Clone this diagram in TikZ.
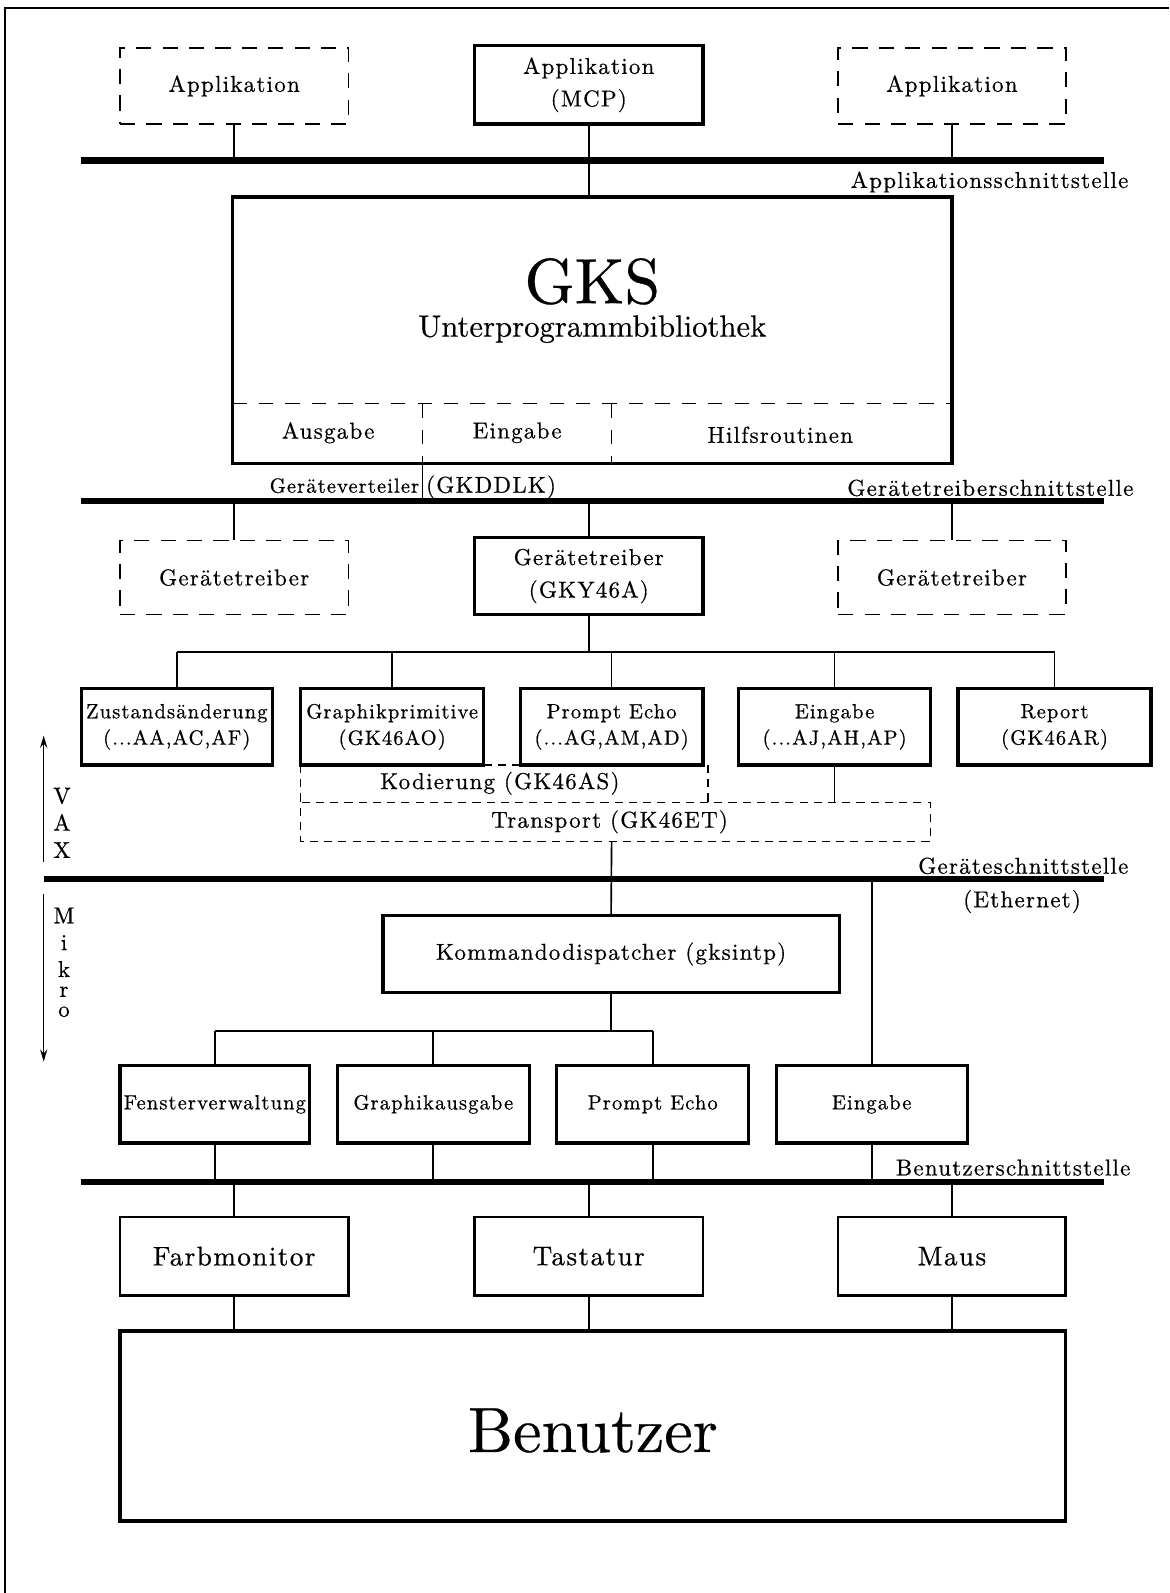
\documentclass[tikz,border=0pt]{standalone}
\usepackage{fontspec}
\setmainfont{lmroman10-regular.otf}[LetterSpace=5.5,FakeBold=0.6]
\newfontfamily\plainlm{lmroman10-regular.otf}[FakeBold=0.4]
\usetikzlibrary{arrows.meta}
\newcommand\FtNorm{\fontsize{11.3pt}{16pt}\selectfont}
\newcommand\FtSmall{\fontsize{10.1pt}{13pt}\selectfont}
\newcommand\FtMid{\fontsize{13.3pt}{16pt}\selectfont}
\newcommand\FtUnter{\plainlm\fontsize{15.1pt}{18pt}\selectfont}
\newcommand\FtHuge{\plainlm\fontsize{31.5pt}{36pt}\selectfont}
\begin{document}
\begin{tikzpicture}[x=0.5pt,y=-0.5pt,
  sz/.style 2 args={minimum width=#1*0.5pt,minimum height=#2*0.5pt},
  box/.style={draw,line width=1.6pt,inner sep=0pt,outer sep=0pt,align=center,font=\FtNorm},
  mbox/.style={draw,line width=1.3pt,inner sep=0pt,outer sep=0pt,align=center,font=\FtMid},
  dbox/.style={draw,line width=0.8pt,dash pattern=on 7.5pt off 5.5pt,inner sep=0pt,outer sep=0pt,align=center,font=\FtNorm},
  sbox/.style={box,font=\FtSmall},
  conn/.style={line width=0.8pt},
  dl/.style={line width=0.8pt,dash pattern=on 7pt off 6pt},
  dls/.style={line width=0.7pt,dash pattern=on 4pt off 3pt},
  bus/.style={line width=3pt},
  lbl/.style={inner sep=0pt,font=\FtNorm},
  slbl/.style={inner sep=0pt,font=\FtSmall}]
\useasboundingbox (0,0) rectangle (1151,1568);
% frame
\coordinate (frBL) at (5,1568);
\coordinate (frTL) at (5,8);
\coordinate (frTR) at (1151,8);
\draw[line width=0.8pt] (frBL) -- (frTL) -- (frTR);

% buses
\coordinate (b1l) at (80,158);  \coordinate (b1r) at (1087,158);
\coordinate (b2l) at (80,493);  \coordinate (b2r) at (1087,493);
\coordinate (b3l) at (43,865);  \coordinate (b3r) at (1087,865);
\coordinate (b4l) at (80,1163); \coordinate (b4r) at (1087,1163);
\draw[bus] (b1l) -- (b1r);
\draw[bus] (b2l) -- (b2r);
\draw[bus] (b3l) -- (b3r);
\draw[bus] (b4l) -- (b4r);

% top row
\node[dbox,sz={225}{75}] (appL) at (230.5,84.5) {Applikation};
\node[box,sz={225}{77}] (mcp) at (579.5,83.5) {Applikation\\(MCP)};
\node[dbox,sz={224}{75}] (appR) at (937,84.5) {Applikation};
\node[lbl,anchor=base east] (lApp) at (1111,185) {Applikationsschnittstelle};

% GKS
\node[box,sz={708}{262}] (gks) at (583,325) {};
\node[inner sep=0pt,font=\FtHuge] (gksT) at (583,277) {GKS};
\node[inner sep=0pt,font=\FtUnter] (gksU) at (583,324) {Unterprogrammbibliothek};
\coordinate (g1) at (0,397);
\coordinate (gv1) at (416,397);
\coordinate (gv2) at (602,397);
\draw[dl] (gks.west |- g1) -- (gks.east |- g1);
\draw[dl] (gv1) -- (gv1 |- gks.south);
\draw[dl] (gv2) -- (gv2 |- gks.south);
\draw[conn] (gv1 |- gks.south) -- (gv1 |- b2l);
\node[lbl] (tAus) at (323,426) {Ausgabe};
\node[lbl] (tEin) at (509,426) {Eingabe};
\node[lbl] (tHil) at (768,428) {Hilfsroutinen};
\node[slbl,anchor=base east] (lGv) at (413,485) {Geräteverteiler};
\node[lbl,anchor=base west] (lGk) at (419,485) {(GKDDLK)};
\node[lbl,anchor=base east] (lGts) at (1116,488) {Gerätetreiberschnittstelle};

\draw[conn] (appL.south) -- (appL.south |- b1l);
\draw[conn] (appR.south) -- (appR.south |- b1l);
\draw[conn] (mcp.south) -- (mcp.south |- gks.north);

% Geraetetreiber row
\node[dbox,sz={225}{73}] (gtL) at (230.5,568.5) {Gerätetreiber};
\node[box,sz={225}{76}] (gtM) at (579.5,567) {Gerätetreiber\\(GKY46A)};
\node[dbox,sz={224}{73}] (gtR) at (937,568.5) {Gerätetreiber};
\draw[conn] (gtL.north |- b2l) -- (gtL.north);
\draw[conn] (gtM.north |- b2l) -- (gtM.north);
\draw[conn] (gtR.north |- b2l) -- (gtR.north);

% module row
\node[sbox,sz={188}{75}] (zu) at (174,715.5) {Zustandsänderung\\(...AA,AC,AF)};
\node[sbox,sz={180}{75}] (gp) at (386,715.5) {Graphikprimitive\\(GK46AO)};
\node[sbox,sz={180}{75}] (pe) at (602,715.5) {Prompt Echo\\(...AG,AM,AD)};
\node[sbox,sz={189}{75}] (ei) at (821.5,715.5) {Eingabe\\(...AJ,AH,AP)};
\node[sbox,sz={190}{75}] (re) at (1038,715.5) {Report\\(GK46AR)};
\coordinate (t1) at (0,642);
\draw[conn] (gtM.south) -- (gtM.south |- t1);
\draw[conn] (zu.north |- t1) -- (re.north |- t1);
\foreach \n in {zu,gp,pe,ei,re} \draw[conn] (\n.north |- t1) -- (\n.north);

% Kodierung / Transport
\coordinate (trT) at (0,790);
\coordinate (trB) at (602,828);
\coordinate (kdR) at (697,753);
\draw[dls] (gp.south west) -- (gp.south west |- trB) -- (ei.south east |- trB) -- (ei.south east |- trT) -- (gp.south west |- trT);
\draw[dls] (gp.south east) -- (pe.south west);
\draw[dls] (kdR) -- (kdR |- trT);
\node[lbl] (tKod) at (492,771) {Kodierung (GK46AS)};
\node[lbl] (tTra) at (600,809) {Transport (GK46ET)};
\draw[conn] (ei.south) -- (ei.south |- trT);

% VAX / Mikro
\coordinate (vaxB) at (43,848);
\coordinate (vaxT) at (43,724);
\coordinate (mikT) at (43,880);
\coordinate (mikB) at (43,1045);
\draw[conn,-{Stealth[length=6pt,width=3.5pt]}] (vaxB) -- (vaxT);
\draw[conn,-{Stealth[length=6pt,width=3.5pt]}] (mikT) -- (mikB);
\node[lbl,align=center,font=\fontsize{11.3pt}{13.4pt}\selectfont,anchor=north] (vax) at (61,775) {V\\A\\X};
\node[lbl,align=center,font=\fontsize{11.3pt}{13.2pt}\selectfont,anchor=north] (mik) at (63,893) {M\\i\\k\\[-3.4pt]r\\[-3.4pt]o};

\node[lbl,anchor=base east] (lGs) at (1111,860) {Geräteschnittstelle};
\node[lbl,anchor=base] (lEth) at (1006,893) {(Ethernet)};

% Mikro side
\node[box,sz={449}{76}] (kd) at (601.5,939) {Kommandodispatcher (gksintp)};
\draw[conn] (trB) -- (kd.north);
\node[sbox,sz={187}{76}] (fv) at (211.5,1087) {Fensterverwaltung};
\node[sbox,sz={189}{76}] (ga) at (426.5,1087) {Graphikausgabe};
\node[sbox,sz={189}{76}] (pe2) at (642.5,1087) {Prompt Echo};
\node[sbox,sz={188}{76}] (ei2) at (858,1087) {Eingabe};
\coordinate (t2) at (0,1015);
\draw[conn] (kd.south) -- (kd.south |- t2);
\draw[conn] (fv.north |- t2) -- (pe2.north |- t2);
\foreach \n in {fv,ga,pe2} \draw[conn] (\n.north |- t2) -- (\n.north);
\draw[conn] (ei2.north |- b3l) -- (ei2.north);
\foreach \n in {fv,ga,pe2,ei2} \draw[conn] (\n.south) -- (\n.south |- b4l);
\node[lbl,anchor=base east] (lBs) at (1113,1157) {Benutzerschnittstelle};

% devices
\node[mbox,sz={225}{77}] (fm) at (230.5,1236.5) {Farbmonitor};
\node[mbox,sz={225}{77}] (ta) at (579.5,1236.5) {Tastatur};
\node[mbox,sz={224}{77}] (ma) at (937,1236.5) {Maus};
\node[box,sz={931}{187}] (ben) at (583.5,1403.5) {};
\node[inner sep=0pt,font=\FtHuge] (benT) at (583.5,1408) {Benutzer};
\draw[line width=2.2pt] (ben.south west) -- (ben.south east);
\foreach \n in {fm,ta,ma} {
  \draw[conn] (\n.north |- b4l) -- (\n.north);
  \draw[conn] (\n.south) -- (\n.south |- ben.north);
}
\end{tikzpicture}
\end{document}
